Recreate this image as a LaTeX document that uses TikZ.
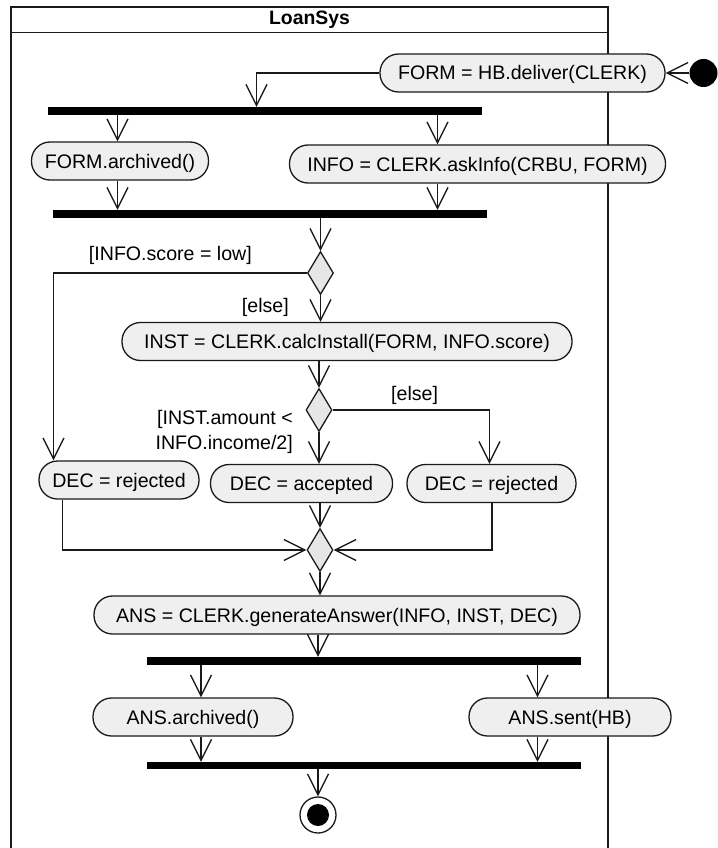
\documentclass[tikz,border=0pt]{standalone}
\usepackage{fontspec}
\setmainfont{Liberation Sans}
\usetikzlibrary{arrows.meta,shapes.geometric}
\definecolor{actfill}{HTML}{EFEFEF}
\definecolor{decfill}{HTML}{E6E6E6}
\definecolor{linec}{HTML}{1A1A1A}
\begin{document}
\begin{tikzpicture}[x=1pt,y=-1pt,
  txt/.style={font=\fontsize{19.6}{23}\selectfont,inner sep=0pt},
  act/.style={txt,draw=linec,line width=1.3pt,fill=actfill,rounded corners=18.5pt,
     minimum height=38pt,text height=14pt,text depth=0pt},
  bar/.style={fill=black,draw=none,inner sep=0pt,minimum height=8pt},
  dec/.style={diamond,draw=linec,fill=decfill,line width=1.3pt,inner sep=0pt,
     minimum width=26pt,minimum height=43pt},
  arr/.style={draw=linec,line width=1.3pt,-{Straight Barb[length=21pt,width=21pt]}},
  ln/.style={draw=linec,line width=1.3pt},
  lbl/.style={txt}]
\useasboundingbox (0,0) rectangle (717,848);
% frame
\draw[ln] (11,849) -- (11,7) -- (608,7) -- (608,849);
\draw[ln] (11,32.5) -- (608,32.5);
\node[txt,font=\fontsize{19.4}{23}\selectfont\bfseries] (title) at (309.5,20) {LoanSys};
% helper x positions
\coordinate (xA) at (256.5,0);
\coordinate (xB) at (117.5,0);
\coordinate (xC) at (437.5,0);
\coordinate (xD) at (53.5,0);
\coordinate (xE) at (489.5,0);
\coordinate (xF) at (62.5,0);
\coordinate (xG) at (492,0);
\coordinate (xH) at (318,0);
\coordinate (xI) at (201,0);
\coordinate (xJ) at (537.5,0);
% nodes
\node[circle,fill=black,inner sep=0pt,minimum size=28pt] (init) at (703.5,73) {};
\node[act,minimum width=285pt] (form) at (522.5,73) {FORM = HB.deliver(CLERK)};
\node[bar,minimum width=434pt] (bar1) at (265,111) {};
\node[act,minimum width=177pt] (farch) at (120,161) {FORM.archived()};
\node[act,minimum width=376pt] (info) at (477.5,164) {INFO = CLERK.askInfo(CRBU, FORM)};
\node[bar,minimum width=434pt] (bar2) at (270,214) {};
\node[dec] (d1) at (320.5,273) {};
\node[act,minimum width=450pt] (inst) at (347,341.5) {INST = CLERK.calcInstall(FORM, INFO.score)};
\node[dec] (d2) at (319,410) {};
\node[act,minimum width=160pt] (decl) at (119,480) {DEC = rejected};
\node[act,minimum width=182pt] (deca) at (301.5,483.5) {DEC = accepted};
\node[act,minimum width=169pt] (decr) at (491.5,483.5) {DEC = rejected};
\node[dec] (d3) at (320,550) {};
\node[act,minimum width=486pt] (ans) at (337,615) {ANS = CLERK.generateAnswer(INFO, INST, DEC)};
\node[bar,minimum width=434pt] (bar3) at (364,661) {};
\node[act,minimum width=200pt] (aarch) at (193,717) {ANS.archived()};
\node[act,minimum width=202pt] (asent) at (570,717) {ANS.sent(HB)};
\node[bar,minimum width=434pt,minimum height=7pt] (bar4) at (364,765.5) {};
\node[circle,draw=linec,line width=1.3pt,fill=white,minimum size=36pt,inner sep=0pt] (fin) at (318,815) {};
\node[circle,fill=black,minimum size=22pt,inner sep=0pt] (finin) at (fin.center) {};
% guard labels
\node[lbl,anchor=base east] (g1) at (252,260) {[INFO.score = low]};
\node[lbl,anchor=base east] (g2) at (289,312) {[else]};
\node[lbl,anchor=base west] (g3) at (391,400) {[else]};
\node[lbl,anchor=base east] (g4) at (293,424) {[INST.amount <};
\node[lbl,anchor=base east] (g5) at (293,449) {INFO.income/2]};
% connectors
\draw[arr] (init) -- (form);
\draw[arr] (form.west) -| (bar1.north -| xA);
\draw[arr] (bar1.south -| xB) -- (farch.north -| xB);
\draw[arr] (bar1.south -| xC) -- (info.north -| xC);
\draw[arr] (farch.south -| xB) -- (bar2.north -| xB);
\draw[arr] (info.south -| xC) -- (bar2.north -| xC);
\draw[arr] (bar2.south -| d1.north) -- (d1.north);
\draw[arr] (d1.west) -| (decl.north -| xD);
\draw[arr] (d1.south) -- (inst.north -| d1.south);
\draw[arr] (inst.south -| d2.north) -- (d2.north);
\draw[arr] (d2.south) -- (deca.north -| d2.south);
\draw[arr] (d2.east) -| (decr.north -| xE);
\draw[arr] (decl.south -| xF) |- (d3.west);
\draw[arr] (decr.south -| xG) |- (d3.east);
\draw[arr] (deca.south -| d3.north) -- (d3.north);
\draw[arr] (d3.south) -- (ans.north -| d3.south);
\draw[arr] (ans.south -| xH) -- (bar3.north -| xH);
\draw[arr] (bar3.south -| xI) -- (aarch.north -| xI);
\draw[arr] (bar3.south -| xJ) -- (asent.north -| xJ);
\draw[arr] (aarch.south -| xI) -- (bar4.north -| xI);
\draw[arr] (asent.south -| xJ) -- (bar4.north -| xJ);
\draw[arr] (bar4.south -| fin.north) -- (fin.north);
\end{tikzpicture}
\end{document}
